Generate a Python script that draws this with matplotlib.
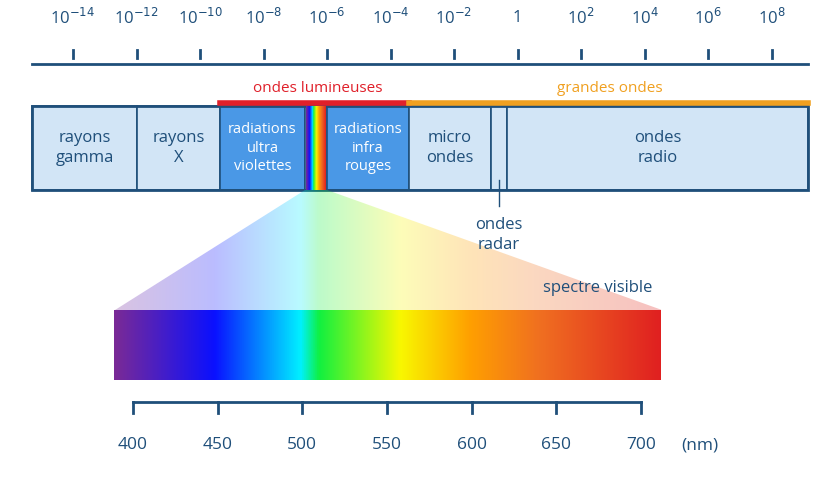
import matplotlib
matplotlib.use("Agg")
import matplotlib.pyplot as plt
import numpy as np
from matplotlib.patches import Rectangle, Polygon
from matplotlib.colors import LinearSegmentedColormap

plt.rcParams['font.family'] = ['Open Sans', 'DejaVu Sans']

exponents = [-14, -12, -10, -8, -6, -4, -2, 0, 2, 4, 6, 8]
bands = ["rayons\ngamma", "rayons\nX", "radiations\nultra\nviolettes", "", "radiations\ninfra\nrouges", "micro\nondes", "", "ondes\nradio"]
band_edges = [32, 137, 220, 305, 327, 409, 491, 507, 808]
band_filled = [False, False, True, False, True, False, False, False]
nm_ticks = [400, 450, 500, 550, 600, 650, 700]
spec_w = [389, 448, 499, 510, 558, 599, 640, 712]
spec_c = ["#7a2a96", "#0a10ff", "#00f0ff", "#10f040", "#f8f800", "#ffa000", "#f07020", "#e02020"]

DB = "#1f4f7a"
fig = plt.figure(figsize=(8.4, 4.8), dpi=100)
ax = fig.add_axes([0, 0, 1, 1])
ax.set_xlim(0, 840); ax.set_ylim(480, 0); ax.axis('off')

# top axis
ax.plot([32, 808], [64, 64], color=DB, lw=2)
x0, dx = 73, 63.5
for i, e in enumerate(exponents):
    x = x0 + i * dx
    ax.plot([x, x], [50, 58], color=DB, lw=2)
    lab = "1" if e == 0 else r"10$^{%d}$" % e
    ax.text(x, 18, lab, ha='center', va='center', color=DB, fontsize=12)

# bands
for i, t in enumerate(bands):
    a, b = band_edges[i], band_edges[i + 1]
    fc = "#4a98e6" if band_filled[i] else "#d2e5f6"
    ax.add_patch(Rectangle((a, 106), b - a, 84, fc=fc, ec=DB, lw=1.2))
    if t:
        ax.text((a + b) / 2, 148, t, ha='center', va='center', color='white' if band_filled[i] else DB,
                fontsize=10.5 if band_filled[i] else 12, linespacing=1.3)
ax.add_patch(Rectangle((32, 106), 776, 84, fc='none', ec=DB, lw=2))

cmap = LinearSegmentedColormap.from_list("s", list(zip([(w - spec_w[0]) / (spec_w[-1] - spec_w[0]) for w in spec_w], spec_c)))
grad = np.linspace(0, 1, 256)[None, :]
# mini rainbow in band
ax.imshow(grad, cmap=cmap, extent=(306, 326, 190, 106), aspect='auto', zorder=3)

ax.plot([220, 409], [103, 103], color="#e0202a", lw=4)
ax.plot([409, 808], [103, 103], color="#f0a020", lw=4)
ax.text(318, 88, "ondes lumineuses", color="#e0202a", ha='center', va='center', fontsize=11)
ax.text(610, 88, "grandes ondes", color="#f0a020", ha='center', va='center', fontsize=11)

ax.plot([499, 499], [180, 206], color=DB, lw=1)
ax.text(499, 235, "ondes\nradar", color=DB, ha='center', va='center', fontsize=12, linespacing=1.3)

def xw(w):
    return 133 + (w - 400) * 508 / 300

xs, xe = 115, 662
# triangle
tri = Polygon([(305, 190), (327, 190), (xe, 310), (xs, 310)], closed=True, fc='none', ec='none')
ax.add_patch(tri)
im = ax.imshow(grad, cmap=cmap, extent=(xw(spec_w[0]), xw(spec_w[-1]), 310, 190), aspect='auto', alpha=0.28, zorder=1)
im.set_clip_path(tri)
ax.imshow(grad, cmap=cmap, extent=(xw(spec_w[0]), xw(spec_w[-1]), 380, 310), aspect='auto', zorder=2)
ax.text(598, 288, "spectre visible", color=DB, ha='center', va='center', fontsize=12)

ax.plot([xw(400), xw(700)], [402, 402], color=DB, lw=2)
for w in nm_ticks:
    ax.plot([xw(w), xw(w)], [402, 413], color=DB, lw=2)
    ax.text(xw(w), 445, str(w), color=DB, ha='center', va='center', fontsize=12.5)
ax.text(700, 445, "(nm)", color=DB, ha='center', va='center', fontsize=12.5)
ax.set_xlim(0, 840); ax.set_ylim(480, 0)
fig.savefig("out.png", dpi=100)
